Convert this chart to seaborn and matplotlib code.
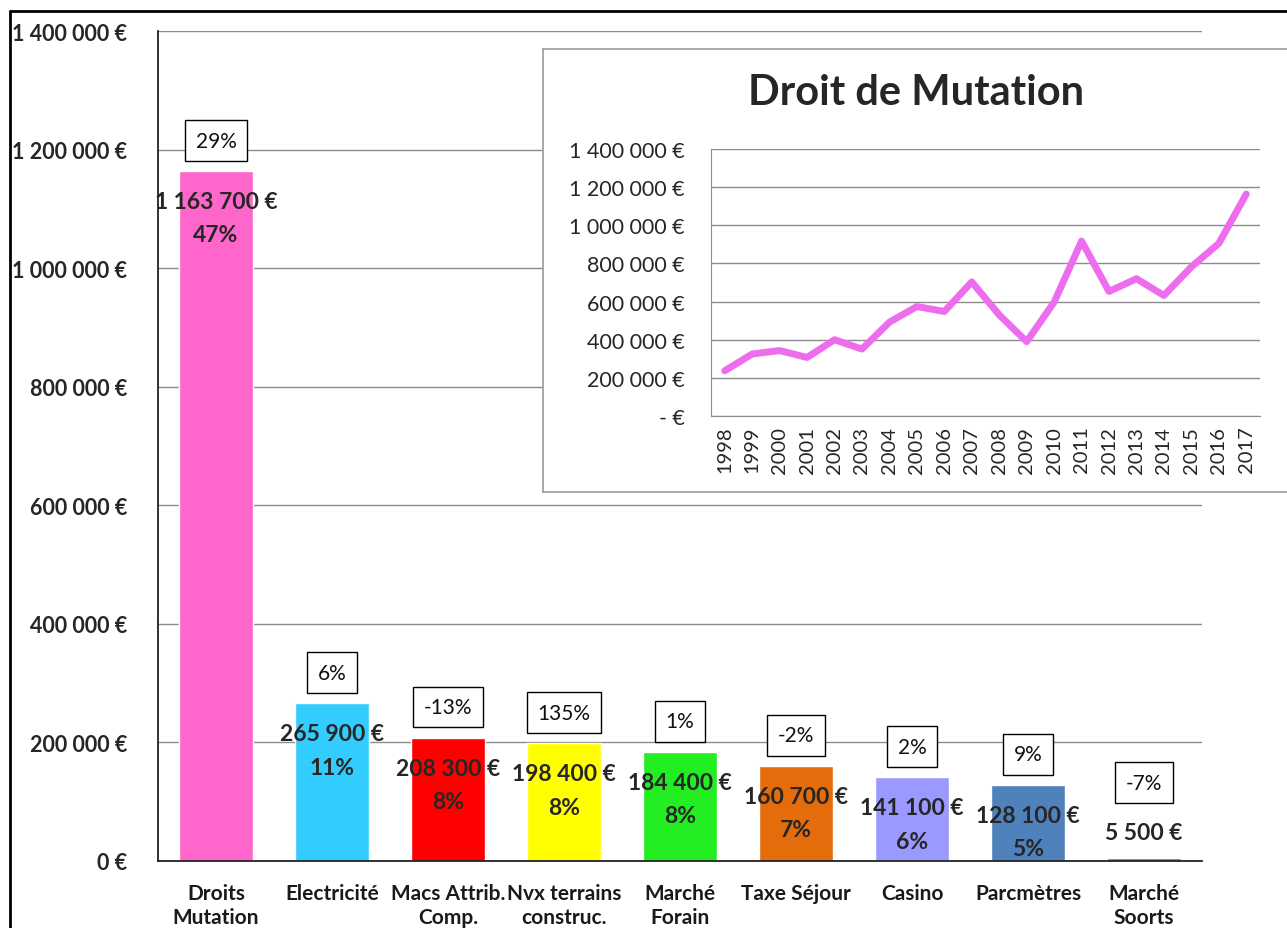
import matplotlib.pyplot as plt
import matplotlib.ticker as mticker
import numpy as np
import pandas as pd
import seaborn as sns
from matplotlib.lines import Line2D

# Data
categories = ['Droits\nMutation', 'Electricité', 'Macs Attrib.\nComp.', 'Nvx terrains\nconstruc.',
              'Marché\nForain', 'Taxe Séjour', 'Casino', 'Parcmètres', 'Marché\nSoorts']
amounts = [1163700, 265900, 208300, 198400, 184400, 160700, 141100, 128100, 5500]
shares = ['47%', '11%', '8%', '8%', '8%', '7%', '6%', '5%', '']
growth = ['29%', '6%', '-13%', '135%', '1%', '-2%', '2%', '9%', '-7%']
bar_colors = ['#FF66CC', '#33CCFF', '#FF0000', '#FFFF00', '#22EE22',
              '#E46C0A', '#9999FF', '#4F81BD', '#2E9C8A']

years = ['1998', '1999', '2000', '2001', '2002', '2003', '2004', '2005', '2006', '2007',
         '2008', '2009', '2010', '2011', '2012', '2013', '2014', '2015', '2016', '2017']
mutation = [237000, 325000, 343000, 307000, 400000, 351000, 492000, 574000, 548000, 703000,
            530000, 390000, 597000, 917000, 653000, 720000, 632000, 782000, 905000, 1163700]

sns.set_style('white')
plt.rcParams['font.family'] = ['Lato', 'DejaVu Sans']


def euro(v, pos=None):
    return f'{v:,.0f} €'.replace(',', ' ')


def euro_dash(v, pos=None):
    if v == 0:
        return '- €'
    return euro(v)


fig = plt.figure(figsize=(12.87, 9.29), dpi=100)
W, H = 1287, 929

# Main bar chart
ax = fig.add_axes([158 / W, 1 - 862 / H, (1202 - 158) / W, (862 - 32) / H])
df = pd.DataFrame({'cat': categories, 'amount': amounts})
sns.barplot(data=df, x='cat', y='amount', hue='cat', palette=bar_colors, width=0.63,
            saturation=1, legend=False, ax=ax)
ax.set_ylim(0, 1400000)
ax.set_xlim(-0.5, len(categories) - 0.5)
ax.set_yticks(np.arange(0, 1400001, 200000))
ax.yaxis.set_major_formatter(mticker.FuncFormatter(euro))
ax.yaxis.grid(True, color='#8c8c8c', lw=1)
ax.set_axisbelow(True)
ax.set_xlabel('')
ax.set_ylabel('')
for s in ['top', 'right']:
    ax.spines[s].set_visible(False)
ax.spines['left'].set_color('#222222')
ax.spines['bottom'].set_color('#222222')
ax.spines['left'].set_linewidth(1.3)
ax.spines['bottom'].set_linewidth(1.3)
ax.tick_params(axis='y', direction='out', length=8, width=1, color='#444444', pad=14,
               labelsize=15.5)
for lab in ax.get_yticklabels():
    lab.set_fontweight('bold')
ax.set_xticks(range(len(categories)))
ax.set_xticklabels(categories, fontsize=15, fontweight='bold', color='#1a1a1a', linespacing=1.25)
ax.tick_params(axis='x', length=0, pad=16)
ax.set_xticks(np.arange(-0.5, len(categories)), minor=True)
ax.tick_params(axis='x', which='minor', direction='out', length=8, width=1, color='#444444')

# Value, share and growth labels
for i, v in enumerate(amounts):
    if v > 50000:
        ax.annotate(euro(v), xy=(i, v), xytext=(0, -22), textcoords='offset points',
                    ha='center', va='center', fontsize=16.5, fontweight='bold')
        ax.annotate(shares[i], xy=(i, v), xytext=(0, -46), textcoords='offset points',
                    ha='center', va='center', fontsize=16.5, fontweight='bold')
        gy = 22
    else:
        ax.annotate(euro(v), xy=(i, v), xytext=(0, 18), textcoords='offset points',
                    ha='center', va='center', fontsize=16.5, fontweight='bold')
        gy = 54
    ax.annotate(growth[i], xy=(i, v), xytext=(0, gy), textcoords='offset points',
                ha='center', va='center', fontsize=15, color='#111111',
                bbox=dict(boxstyle='square,pad=0.5', fc='white', ec='black', lw=1))

# Inset frame
box = fig.add_axes([543 / W, 1 - 493 / H, 0.7, (493 - 50) / H])
box.set_facecolor('white')
box.set_xticks([])
box.set_yticks([])
for s in box.spines.values():
    s.set_color('#9a9a9a')
    s.set_linewidth(1.2)

# Inset line chart
ax_in = fig.add_axes([711 / W, 1 - 417 / H, (1260 - 711) / W, (417 - 150) / H])
x = np.arange(len(years))
sns.lineplot(x=x, y=mutation, color='#EE6CEE', lw=5, ax=ax_in)
ax_in.set_ylim(0, 1400000)
ax_in.set_xlim(-0.5, len(years) - 0.5)
ax_in.set_yticks(np.arange(0, 1400001, 200000))
ax_in.yaxis.set_major_formatter(mticker.FuncFormatter(euro_dash))
ax_in.yaxis.grid(True, color='#8c8c8c', lw=1)
ax_in.set_axisbelow(True)
for s in ['top', 'right']:
    ax_in.spines[s].set_visible(False)
ax_in.spines['left'].set_color('#8c8c8c')
ax_in.spines['bottom'].set_color('#8c8c8c')
ax_in.tick_params(axis='y', direction='out', length=7, color='#8c8c8c', labelsize=15.5, pad=12)
ax_in.set_xticks(x)
ax_in.set_xticklabels(years, rotation=90, fontsize=14.5)
ax_in.tick_params(axis='x', length=0, pad=7)
ax_in.set_xticks(np.arange(-0.5, len(years)), minor=True)
ax_in.tick_params(axis='x', which='minor', direction='out', length=6, color='#8c8c8c')
fig.text(916 / W, 1 - 93 / H, 'Droit de Mutation', ha='center', va='center',
         fontsize=30, fontweight='bold')

# Outer border of the sheet
fig.add_artist(Line2D([10 / W, 10 / W], [0, 1 - 12 / H], color='black', lw=2))
fig.add_artist(Line2D([10 / W, 1], [1 - 12 / H, 1 - 12 / H], color='black', lw=2))

fig.savefig('out.png', dpi=100)
